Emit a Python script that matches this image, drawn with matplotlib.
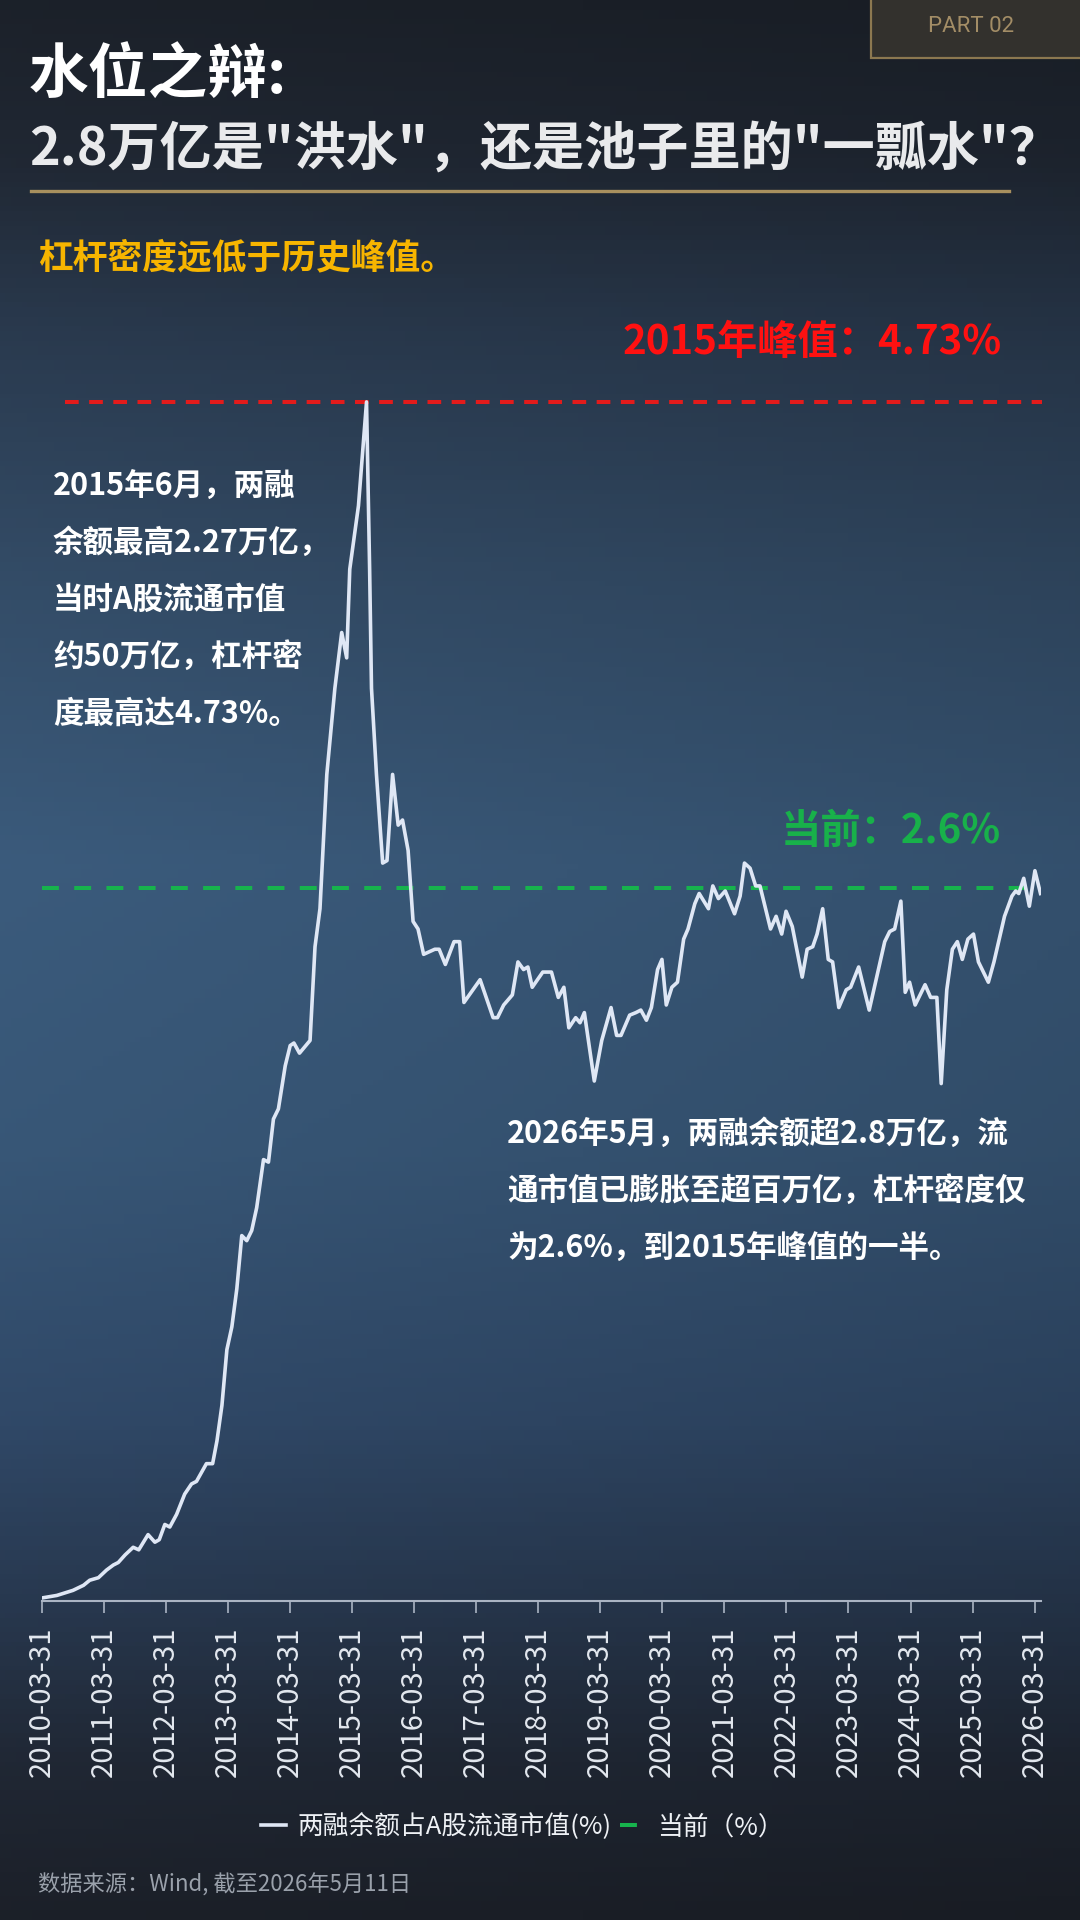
import matplotlib
matplotlib.use("Agg")
import matplotlib.pyplot as plt
import numpy as np
from matplotlib.colors import LinearSegmentedColormap
from matplotlib.patches import Rectangle
from matplotlib.lines import Line2D

plt.rcParams['font.family'] = ['Noto Sans CJK SC', 'DejaVu Sans']

# ---- data ----
# decimal year of each point, margin balance / A-share float cap (%)
years = [
    2010.25, 2010.49, 2010.75, 2010.92, 2011.02, 2011.16, 2011.29, 2011.40, 2011.48, 2011.59,
    2011.72, 2011.81, 2011.96, 2012.07, 2012.14, 2012.23, 2012.31, 2012.42, 2012.55, 2012.66,
    2012.74, 2012.90, 2013.00, 2013.07, 2013.15, 2013.23, 2013.31, 2013.39, 2013.47, 2013.55,
    2013.63, 2013.71, 2013.82, 2013.90, 2013.98, 2014.06, 2014.17, 2014.25, 2014.31, 2014.40,
    2014.57, 2014.65, 2014.73, 2014.84, 2014.97, 2015.08, 2015.16, 2015.21, 2015.35, 2015.48,
    2015.53, 2015.56, 2015.64, 2015.74, 2015.81, 2015.90, 2015.99, 2016.06, 2016.15, 2016.23,
    2016.31, 2016.40, 2016.58, 2016.65, 2016.75, 2016.89, 2016.98, 2017.05, 2017.31, 2017.52,
    2017.59, 2017.69, 2017.83, 2017.92, 2018.01, 2018.08, 2018.15, 2018.32, 2018.46, 2018.57,
    2018.66, 2018.74, 2018.85, 2018.92, 2018.99, 2019.15, 2019.27, 2019.42, 2019.51, 2019.58,
    2019.72, 2019.82, 2019.90, 2019.99, 2020.07, 2020.17, 2020.24, 2020.31, 2020.40, 2020.49,
    2020.59, 2020.66, 2020.77, 2020.84, 2020.99, 2021.06, 2021.15, 2021.26, 2021.41, 2021.50,
    2021.57, 2021.66, 2021.75, 2021.82, 2021.99, 2022.08, 2022.17, 2022.24, 2022.34, 2022.50,
    2022.58, 2022.67, 2022.74, 2022.83, 2022.92, 2022.99, 2023.09, 2023.21, 2023.28, 2023.41,
    2023.58, 2023.70, 2023.83, 2023.91, 2023.99, 2024.09, 2024.16, 2024.23, 2024.32, 2024.48,
    2024.57, 2024.67, 2024.74, 2024.83, 2024.92, 2025.00, 2025.08, 2025.17, 2025.26, 2025.34,
    2025.50, 2025.59, 2025.76, 2025.88, 2025.94, 2025.99, 2026.07, 2026.16, 2026.25, 2026.34,
]
ratio = [
    0.01, 0.02, 0.04, 0.06, 0.08, 0.09, 0.12, 0.14, 0.15, 0.18,
    0.21, 0.20, 0.26, 0.23, 0.24, 0.30, 0.29, 0.34, 0.42, 0.46,
    0.47, 0.54, 0.54, 0.63, 0.77, 0.99, 1.08, 1.23, 1.44, 1.42,
    1.46, 1.55, 1.74, 1.73, 1.90, 1.94, 2.11, 2.19, 2.20, 2.16,
    2.21, 2.58, 2.73, 3.26, 3.60, 3.82, 3.72, 4.07, 4.32, 4.73,
    4.07, 3.60, 3.26, 2.91, 2.92, 3.26, 3.06, 3.08, 2.96, 2.68,
    2.65, 2.55, 2.57, 2.57, 2.51, 2.60, 2.60, 2.36, 2.45, 2.30,
    2.30, 2.35, 2.39, 2.52, 2.49, 2.50, 2.42, 2.48, 2.48, 2.38,
    2.42, 2.26, 2.30, 2.28, 2.32, 2.05, 2.21, 2.34, 2.23, 2.23,
    2.31, 2.32, 2.33, 2.29, 2.34, 2.49, 2.53, 2.35, 2.42, 2.44,
    2.61, 2.65, 2.75, 2.79, 2.73, 2.82, 2.77, 2.80, 2.71, 2.78,
    2.91, 2.89, 2.82, 2.82, 2.65, 2.70, 2.63, 2.72, 2.66, 2.46,
    2.57, 2.58, 2.63, 2.73, 2.53, 2.52, 2.34, 2.41, 2.42, 2.50,
    2.33, 2.46, 2.60, 2.64, 2.65, 2.76, 2.40, 2.44, 2.35, 2.43,
    2.38, 2.38, 2.04, 2.41, 2.57, 2.60, 2.53, 2.61, 2.63, 2.52,
    2.44, 2.52, 2.70, 2.78, 2.80, 2.79, 2.85, 2.74, 2.88, 2.79,
]
peak_level = 4.73       # red reference line
current_line = 2.81     # green reference line (as drawn)

tick_years = list(range(2010, 2027))
tick_labels = [f"{y}-03-31" for y in tick_years]

title1 = "水位之辩:"
title2 = "2.8万亿是\"洪水\"，还是池子里的\"一瓢水\"？"
subtitle = "杠杆密度远低于历史峰值。"
peak_label = "2015年峰值：4.73%"
current_label = "当前：2.6%"
note_2015 = ["2015年6月，两融", "余额最高2.27万亿，", "当时A股流通市值",
             "约50万亿，杠杆密", "度最高达4.73%。"]
note_2026 = ["2026年5月，两融余额超2.8万亿，流",
             "通市值已膨胀至超百万亿，杠杆密度仅",
             "为2.6%，到2015年峰值的一半。"]
legend_labels = ["两融余额占A股流通市值(%)", "当前（%）"]
source = "数据来源：Wind, 截至2026年5月11日"

# ---- layout helpers (pixel -> figure fraction) ----
W, H = 1080, 1920


def fx(px):
    return px / W


def fy(py):
    return 1 - py / H


fig = plt.figure(figsize=(W / 100, H / 100), dpi=100)

# background gradient, a bit brighter on the left
bg = fig.add_axes([0, 0, 1, 1], zorder=-10)
stops = [(0.0, '#1a1f27'), (0.08, '#1e2530'), (0.17, '#273649'), (0.30, '#304760'),
         (0.45, '#375574'), (0.60, '#34516f'), (0.74, '#2d4461'), (0.84, '#253449'),
         (0.92, '#1e2531'), (1.0, '#1a1e26')]
cmap = LinearSegmentedColormap.from_list("bg", stops)
grad = cmap(np.linspace(0, 1, 400)[:, None])[:, :, :3]
hmod = np.linspace(1.07, 0.94, 200)[None, :, None]
bg.imshow(np.clip(grad * hmod, 0, 1), extent=[0, 1, 0, 1], aspect='auto', origin='upper')
bg.set_axis_off()

# main chart axes
x0, x1 = 2010.246, 2026.34
y_top = 5.0
ax_left, ax_right = 41.7, 1040.5
ax_bottom_px, px_per_unit = 1600.5, 253.4
ax = fig.add_axes([fx(ax_left), fy(ax_bottom_px), (ax_right - ax_left) / W,
                   y_top * px_per_unit / H])
ax.set_facecolor('none')

main_line, = ax.plot(years, ratio, color='#dfe7f5', lw=2.6, zorder=3)
cur_line = ax.axhline(current_line, color='#17b34d', lw=2.9, dashes=(4.2, 3.8), zorder=2)
ax.plot([2010.62, 2026.37], [peak_level, peak_level], color='#e31b1b', lw=2.9,
        dashes=(3.4, 2.6), clip_on=False, zorder=2)

ax.set_xlim(x0, x1)
ax.set_ylim(0, y_top)
for s in ['left', 'right', 'top']:
    ax.spines[s].set_visible(False)
ax.spines['bottom'].set_color('#aab4c3')
ax.spines['bottom'].set_linewidth(1.5)
ax.set_yticks([])
ax.set_xticks([y + 0.246 for y in tick_years])
ax.set_xticklabels(tick_labels, rotation=90, fontsize=21, color='#e3e8ef')
ax.tick_params(axis='x', direction='out', length=8.6, width=1.2, color='#aab4c3', pad=10)

# reference-line labels
fig.text(fx(1002), fy(342), peak_label, color='#ff1111', fontsize=29, fontweight='bold',
         ha='right', va='center')
fig.text(fx(781), fy(831), current_label, color='#18b14a', fontsize=29, fontweight='bold',
         ha='left', va='center')

# annotations
for i, line in enumerate(note_2015):
    fig.text(fx(53), fy(486 + i * 57), line, color='white', fontsize=22,
             fontweight='bold', ha='left', va='center')
for i, line in enumerate(note_2026):
    fig.text(fx(507), fy(1134 + i * 57), line, color='white', fontsize=22,
             fontweight='bold', ha='left', va='center')

# header
fig.text(fx(29), fy(76), title1, color='white', fontsize=43, fontweight='bold',
         ha='left', va='center')
fig.text(fx(29), fy(149), title2, color='#e9eaec', fontsize=37.5, fontweight='bold',
         ha='left', va='center')
fig.add_artist(Line2D([fx(31), fx(1009)], [fy(191), fy(191)], color='#a8905e', lw=2.4,
                      transform=fig.transFigure))
fig.text(fx(38), fy(258), subtitle, color='#f7b500', fontsize=25, fontweight='bold',
         ha='left', va='center')

# PART 02 tag
fig.add_artist(Rectangle((fx(871), fy(58)), (W + 5 - 871) / W, 70 / H,
                         facecolor='#33312d', edgecolor='#8c7850', lw=1.6,
                         transform=fig.transFigure, zorder=5))
fig.text(fx(971), fy(27), "PART 02", color='#a38d66', fontsize=16,
         family=['Roboto', 'DejaVu Sans'], ha='center', va='center', zorder=6)

# legend
ax.legend(handles=[main_line, cur_line], labels=legend_labels, ncol=2, loc='center',
          bbox_to_anchor=(fx(522), fy(1827)), bbox_transform=fig.transFigure,
          frameon=False, handlelength=1.0, handletextpad=0.45, columnspacing=0.3,
          fontsize=18.5, labelcolor='#eef1f5')

# source
fig.text(fx(38), fy(1885), source, color='#9aa1ab', fontsize=16, ha='left', va='center')

fig.savefig("out.png", dpi=100)
